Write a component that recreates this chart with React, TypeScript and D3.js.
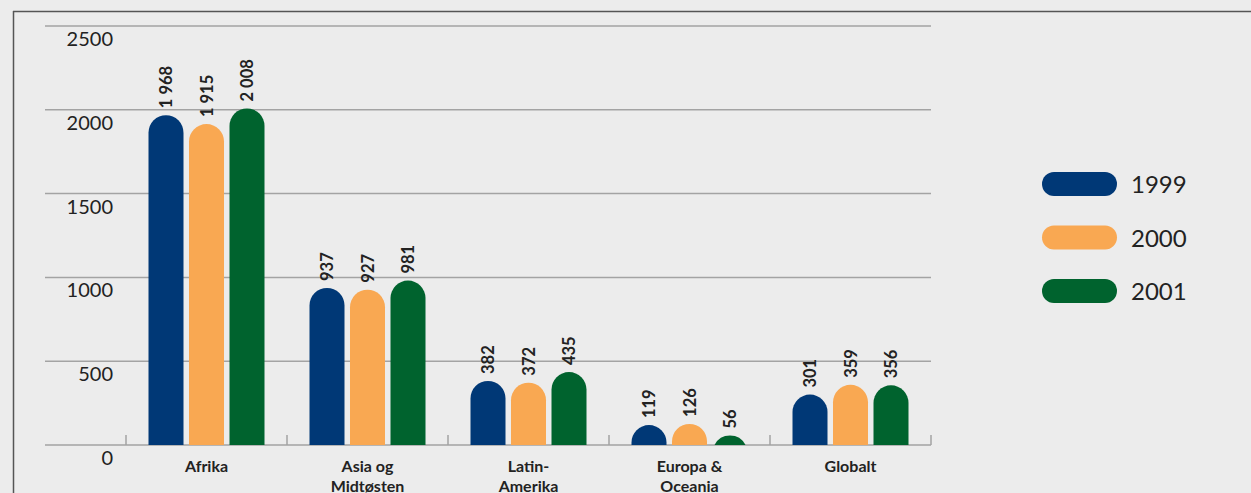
import * as d3 from "d3";

const categories = [["Afrika"], ["Asia og", "Midtøsten"], ["Latin-", "Amerika"], ["Europa &", "Oceania"], ["Globalt"]];
const seriesNames = ["1999", "2000", "2001"];
const values1999 = [1968, 937, 382, 119, 301];
const values2000 = [1915, 927, 372, 126, 359];
const values2001 = [2008, 981, 435, 56, 356];
const yTicks = [0, 500, 1000, 1500, 2000, 2500];
const colors = ["#003876", "#f9a852", "#00632e"];

const W = 1251;
const H = 493;
const font = "Lato, 'Open Sans', sans-serif";

const fmt = (v: number) => {
  const s = String(v);
  return s.length > 3 ? s.slice(0, s.length - 3) + " " + s.slice(-3) : s;
};

// bar with a round cap; value top is top of the cap
function capBar(x: number, w: number, yTop: number, yBase: number) {
  const r = w / 2;
  const cx = x + r;
  const h = yBase - yTop;
  if (h >= r) {
    return `M${x},${yBase}V${yTop + r}A${r},${r} 0 0 1 ${x + w},${yTop + r}V${yBase}Z`;
  }
  const hw = Math.sqrt(r * r - (r - h) * (r - h));
  return `M${cx - hw},${yBase}A${r},${r} 0 0 1 ${cx + hw},${yBase}Z`;
}

export default function App() {
  const series = [values1999, values2000, values2001];
  const y = d3.scaleLinear().domain([0, 2500]).range([445, 26]);
  const x0 = d3
    .scaleBand<number>()
    .domain(d3.range(categories.length))
    .range([126, 931])
    .padding(0);
  const groupW = 116;
  const x1 = d3
    .scaleBand<number>()
    .domain(d3.range(seriesNames.length))
    .range([x0.bandwidth() / 2 - groupW / 2, x0.bandwidth() / 2 + groupW / 2])
    .paddingInner(11 / 81)
    .paddingOuter(0);
  const bw = x1.bandwidth();
  const tickXs = d3.range(categories.length + 1).map((i) => 126 + i * x0.step());

  return (
    <svg
      width={W}
      height={H}
      style={{ position: "absolute", left: 0, top: 0, background: "#ececec" }}
      fontFamily={font}
    >
      <rect width={W} height={H} fill="#ececec" />
      {/* frame */}
      <line x1={13} x2={W} y1={11.5} y2={11.5} stroke="#555" strokeWidth={1.5} />
      <line x1={13.5} x2={13.5} y1={11} y2={H} stroke="#555" strokeWidth={1.5} />

      {/* grid + y labels */}
      {yTicks.map((t) => (
        <g key={t}>
          <line x1={45} x2={931} y1={y(t)} y2={y(t)} stroke="#a3a3a3" strokeWidth={1.5} />
          <text x={113} y={y(t) + 20} textAnchor="end" fontSize={20} fill="#222">
            {t}
          </text>
        </g>
      ))}
      {tickXs.map((tx, i) => (
        <line key={i} x1={tx} x2={tx} y1={445} y2={435} stroke="#a3a3a3" strokeWidth={1.5} />
      ))}

      {/* bars */}
      {categories.map((cat, ci) => (
        <g key={ci} transform={`translate(${x0(ci)},0)`}>
          {series.map((vals, si) => {
            const bx = x1(si)!;
            const top = y(vals[ci]);
            return (
              <g key={si}>
                <path d={capBar(bx, bw, top, y(0))} fill={colors[si]} />
                <text
                  transform={`translate(${bx + bw / 2 + 6},${top - 7}) rotate(-90)`}
                  fontSize={16.5}
                  fontWeight={700}
                  fill="#222"
                >
                  {fmt(vals[ci])}
                </text>
              </g>
            );
          })}
          {cat.map((line, li) => (
            <text
              key={li}
              x={x0.bandwidth() / 2}
              y={472 + li * 20}
              textAnchor="middle"
              fontSize={16}
              fontWeight={700}
              fill="#222"
            >
              {line}
            </text>
          ))}
        </g>
      ))}

      {/* legend */}
      {seriesNames.map((name, i) => {
        const cy = 184 + i * 53.5;
        return (
          <g key={name}>
            <rect x={1042} y={cy - 12} width={75} height={24} rx={12} fill={colors[i]} />
            <text x={1131} y={cy + 9} fontSize={24} fill="#222">
              {name}
            </text>
          </g>
        );
      })}
    </svg>
  );
}
